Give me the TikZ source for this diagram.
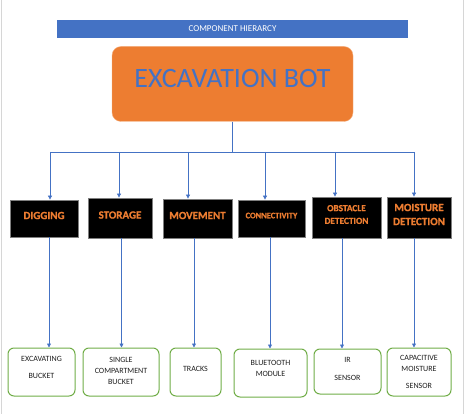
\documentclass[tikz,border=0pt]{standalone}
\usepackage{fontspec}
\setmainfont{Carlito}
\newfontfamily\taskfont[BoldFeatures={FakeBold=1}]{Carlito}
\usepackage{tikz}
\usetikzlibrary{arrows.meta,positioning}
\definecolor{hblue}{HTML}{4472C4}
\definecolor{horange}{HTML}{ED7D31}
\definecolor{hgreen}{HTML}{70AD47}
\definecolor{hgray}{HTML}{7F7F7F}
\definecolor{htext}{HTML}{1F1F1F}
\definecolor{hframe}{HTML}{D6D6D6}

\begin{document}
\begin{tikzpicture}[x=1pt,y=-1pt,>={Triangle[length=4pt,width=4pt]},
   link/.style={draw=hblue,line width=0.8pt},
   title/.style={fill=hblue,text=white,font=\fontsize{9}{10}\selectfont,
      minimum width=351pt,minimum height=18pt,inner sep=0pt},
   root/.style={fill=horange,draw=horange!60!white,rounded corners=9pt,text=hblue,
      font=\fontsize{28}{32}\selectfont,minimum width=241pt,minimum height=75pt,
      inner sep=0pt,text depth=11pt},
   task/.style={fill=black,draw=hgray,line width=0.8pt,text=horange,align=center,
      font=\taskfont\bfseries\fontsize{11}{13}\selectfont,inner sep=0pt,text depth=6pt},
   part/.style={draw=hgreen,line width=1pt,rounded corners=6pt,fill=white,text=htext,
      font=\fontsize{8}{11}\selectfont,align=center,minimum height=48pt,inner sep=0pt}]
   \useasboundingbox (0,0) rectangle (466,414);
   \draw[hframe,line width=1pt] (1.5,0) -- (1.5,414);
   \draw[hframe,line width=1.5pt] (463.5,0) -- (463.5,414);

   % top
   \node[title] (head) at (232.5,29) {COMPONENT HIERARCY};
   \node[root] (bot) at (232.5,84) {EXCAVATION BOT};

   % functions
   \node[task,minimum width=68pt,minimum height=37pt] (dig) at (44,218.5) {DIGGING};
   \node[task,minimum width=64pt,minimum height=40pt] (sto) at (120,218) {STORAGE};
   \node[task,minimum width=69pt,minimum height=39pt] (mov) at (197.5,218.5) {MOVEMENT};
   \node[task,minimum width=67pt,minimum height=37pt,font=\taskfont\bfseries\fontsize{8.4}{10}\selectfont] (con) at (271.5,218.5) {CONNECTIVITY};
   \node[task,minimum width=69pt,minimum height=41pt,font=\taskfont\bfseries\fontsize{9.3}{12.7}\selectfont] (obs) at (346.5,217.5) {OBSTACLE\\DETECTION};
   \node[task,minimum width=64pt,minimum height=41pt,font=\taskfont\bfseries\fontsize{11}{14}\selectfont] (moi) at (419,217.5) {MOISTURE\\DETECTION};

   % parts
   \node[part,minimum width=67pt,text depth=9pt] (exb) at (41.5,372) {EXCAVATING\\[6pt]BUCKET};
   \node[part,minimum width=76pt,text depth=3pt] (scb) at (121,372) {SINGLE\\COMPARTMENT\\BUCKET};
   \node[part,minimum width=51pt,text depth=6pt] (trk) at (195.5,372) {TRACKS};
   \node[part,minimum width=73pt,text depth=9pt] (btm) at (270.5,373) {BLUETOOTH\\MODULE};
   \node[part,minimum width=67pt,minimum height=45pt,text depth=5pt] (irs) at (347.5,371.5) {IR\\[7pt]SENSOR};
   \node[part,minimum width=64pt] (cms) at (419,372) {CAPACITIVE\\MOISTURE\\[6pt]SENSOR};

   % bus
   \coordinate (b1) at (50,152);
   \coordinate (b2) at (119,152);
   \coordinate (b3) at (188,152);
   \coordinate (b4) at (265,152);
   \coordinate (b5) at (335,152);
   \coordinate (b6) at (414,152);
   \draw[link] (bot.south) -- (bot.south |- b1);
   \draw[link] (b1) -- (b6);
   \foreach \b/\n in {b1/dig,b2/sto,b3/mov,b4/con,b5/obs,b6/moi}
      \draw[link,->] (\b) -- (\b |- \n.north);
   \foreach \x/\u/\l in {49/dig/exb,121.5/sto/scb,194/mov/trk,270/con/btm,342/obs/irs,414/moi/cms}
      \draw[link,->] (\x,0 |- \u.south) -- (\x,0 |- \l.north);
\end{tikzpicture}
\end{document}
